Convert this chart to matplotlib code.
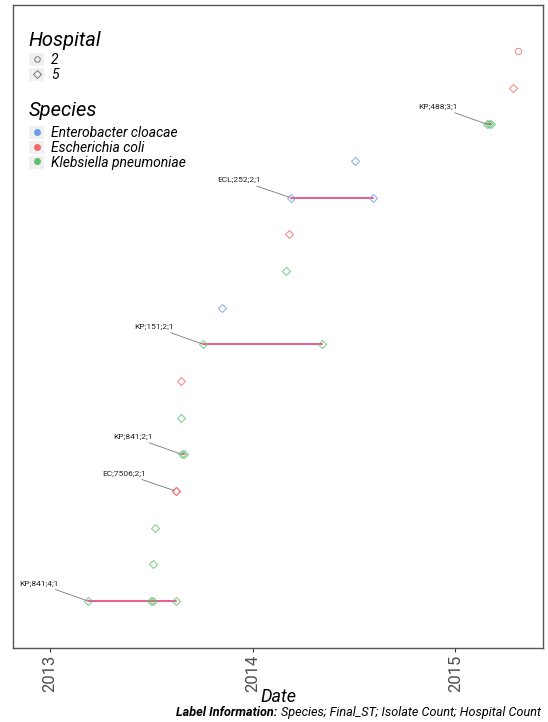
import matplotlib
matplotlib.use("Agg")
from matplotlib import pyplot as plt
from matplotlib.lines import Line2D
from matplotlib.patches import Patch
from matplotlib.legend_handler import HandlerTuple
import matplotlib.dates as mdates
import pandas as pd

# one row per ST cluster, from bottom to top
species = ["KP", "KP", "KP", "EC", "KP", "KP", "EC", "KP",
           "ECL", "KP", "EC", "ECL", "ECL", "KP", "EC", "EC"]
hospital = [5, 5, 5, 5, 5, 5, 5, 5, 5, 5, 5, 5, 5, 5, 5, 2]
dates = [
    ["2013-03-10", "2013-07-01", "2013-07-05", "2013-08-15"],
    ["2013-07-05"],
    ["2013-07-09"],
    ["2013-08-15", "2013-08-15"],
    ["2013-08-26", "2013-08-30"],
    ["2013-08-24"],
    ["2013-08-24"],
    ["2013-10-04", "2014-05-05"],
    ["2013-11-06"],
    ["2014-03-01"],
    ["2014-03-07"],
    ["2014-03-10", "2014-08-06"],
    ["2014-07-05"],
    ["2015-02-27", "2015-03-03", "2015-03-07"],
    ["2015-04-15"],
    ["2015-04-23"],
]
labels = ["KP;841;4;1", "", "", "EC;7506;2;1", "KP;841;2;1", "", "",
          "KP;151;2;1", "", "", "", "ECL;252;2;1", "", "KP;488;3;1", "", ""]

species_names = {"ECL": "Enterobacter cloacae", "EC": "Escherichia coli",
                 "KP": "Klebsiella pneumoniae"}
species_colors = {"ECL": "#6E9BE6", "EC": "#F06A6A", "KP": "#5CC070"}
hospital_markers = {2: "o", 5: "D"}

plt.rcParams["font.family"] = ["Roboto", "DejaVu Sans"]

fig = plt.figure(figsize=(5.48, 7.22), dpi=100)
ax = fig.add_axes([0.0237, 0.1025, 0.9673, 0.8905])

for i, (sp, hosp, ds, lab) in enumerate(zip(species, hospital, dates, labels)):
    row = i + 1
    d = pd.to_datetime(ds)
    if len(d) > 1 and d.min() != d.max():
        ax.plot([d.min(), d.max()], [row, row], color="#E3185F", lw=1.1,
                alpha=0.9, zorder=2)
    ax.plot(d, [row] * len(d), linestyle="none",
            marker=hospital_markers[hosp], ms=4.2 if hosp == 5 else 4.5,
            mfc="none", mec=species_colors[sp], mew=0.8, alpha=0.75, zorder=3)
    if lab:
        ax.annotate(lab, xy=(d.min(), row), xytext=(-21, 12.5),
                    textcoords="offset points", ha="right", va="center",
                    fontsize=6, color="#222222",
                    arrowprops=dict(arrowstyle="-", color="#777777", lw=0.6,
                                    shrinkA=0, shrinkB=1))

ax.set_ylim(-0.28, 17.25)
ax.set_yticks([])
ax.set_xlim(pd.Timestamp("2012-10-26"), pd.Timestamp("2015-06-08"))
ax.xaxis.set_major_locator(mdates.YearLocator())
ax.xaxis.set_major_formatter(mdates.DateFormatter("%Y"))
ax.tick_params(axis="x", labelrotation=90, labelsize=12, labelcolor="#4D4D4D",
               color="#333333", length=3, width=0.8, pad=2)
for s in ax.spines.values():
    s.set_color("#555555")
    s.set_linewidth(1)
ax.set_xlabel("Date", fontsize=13, fontstyle="italic", labelpad=-3)

# legends, with grey key backgrounds like ggplot
key_bg = "#F0F0F0"
leg_kw = dict(loc="upper left", frameon=False, handlelength=1.1,
              handleheight=1.05, handletextpad=0.5, labelspacing=0.05,
              borderpad=0, borderaxespad=0, alignment="left",
              prop={"size": 10, "style": "italic"},
              title_fontproperties={"size": 14.5, "style": "italic"},
              handler_map={tuple: HandlerTuple(ndivide=1)})

hosp_handles = [(Patch(fc=key_bg, ec="none"),
                 Line2D([], [], linestyle="none", marker=hospital_markers[h],
                        ms=3.6 if h == 5 else 4, mfc="none", mec="#777777",
                        mew=0.7)) for h in [2, 5]]
leg1 = ax.legend(hosp_handles, ["2", "5"], title="Hospital",
                 bbox_to_anchor=(0.03, 0.959), **leg_kw)
leg1._legend_box.sep = 2
ax.add_artist(leg1)

sp_handles = [(Patch(fc=key_bg, ec="none"),
               Line2D([], [], linestyle="none", marker="o", ms=4,
                      color=species_colors[k])) for k in ["ECL", "EC", "KP"]]
leg2 = ax.legend(sp_handles, [species_names[k] for k in ["ECL", "EC", "KP"]],
                 title="Species", bbox_to_anchor=(0.03, 0.851), **leg_kw)
leg2._legend_box.sep = 4.5

# caption: bold part left-anchored, regular part follows its right edge
bold = fig.text(0.322, 0.004, "Label Information: ", ha="left", va="bottom",
                fontsize=9.1, fontstyle="italic", fontweight="bold")
ax.annotate("Species; Final_ST; Isolate Count; Hospital Count", xy=(1, 0),
            xycoords=bold, ha="left", va="bottom", fontsize=9.1,
            fontstyle="italic", annotation_clip=False)

plt.savefig("out.png", dpi=100)
plt.close()
